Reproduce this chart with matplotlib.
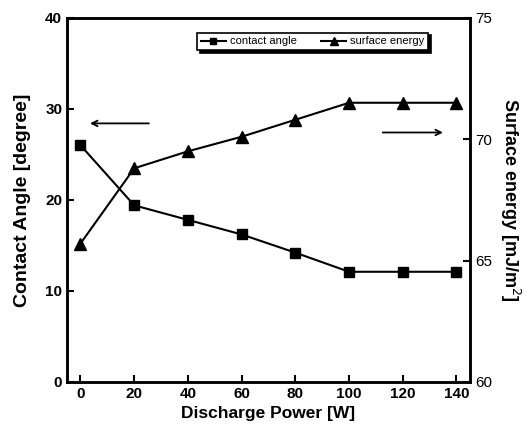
import matplotlib
matplotlib.use('Agg')
import matplotlib.pyplot as plt

plt.rcParams['font.family'] = ['Liberation Sans', 'DejaVu Sans']

power = [0, 20, 40, 60, 80, 100, 120, 140]
contact_angle = [26.0, 19.4, 17.8, 16.2, 14.2, 12.1, 12.1, 12.1]
surface_energy = [65.7, 68.8, 69.5, 70.1, 70.8, 71.5, 71.5, 71.5]
x_ticks = [0, 20, 40, 60, 80, 100, 120, 140]
left_ticks = [0, 10, 20, 30, 40]
right_ticks = [60, 65, 70, 75]

fig = plt.figure(figsize=(5.28, 4.34), dpi=100)
ax = fig.add_axes([0.127, 0.12, 0.763, 0.839])
ax2 = ax.twinx()

l1, = ax.plot(power, contact_angle, color='black', lw=1.5, marker='s', ms=7.5,
              label='contact angle')
l2, = ax2.plot(power, surface_energy, color='black', lw=1.5, marker='^', ms=9,
               label='surface energy')

ax.set_xlim(-5, 145)
ax.set_ylim(0, 40)
ax2.set_ylim(60, 75)
ax.set_xticks(x_ticks)
ax.set_yticks(left_ticks)
ax2.set_yticks(right_ticks)

# arrows showing which axis each curve belongs to
ax.annotate('', xy=(2.5, 28.4), xytext=(26.5, 28.4),
            arrowprops=dict(arrowstyle='->', color='black', lw=1.3))
ax.annotate('', xy=(136, 27.4), xytext=(111.5, 27.4),
            arrowprops=dict(arrowstyle='->', color='black', lw=1.3))

for a in (ax, ax2):
	for s in a.spines.values(): s.set_linewidth(1.8)
ax.tick_params(direction='in', length=5, width=1.5, labelsize=11)
ax2.tick_params(direction='in', length=5, width=1.5, labelsize=11)
for lab in ax.get_xticklabels() + ax.get_yticklabels(): lab.set_fontweight('bold')

ax.set_xlabel('Discharge Power [W]', fontsize=12.5, fontweight='bold', labelpad=4)
ax.set_ylabel('Contact Angle [degree]', fontsize=14, fontweight='bold', labelpad=10)
ax2.set_ylabel('Surface energy [mJ/m$^2$]', fontsize=13, fontweight='bold',
               rotation=270, labelpad=22)

leg = ax.legend([l1, l2], ['contact angle', 'surface energy'], loc='center',
                bbox_to_anchor=(0.61, 0.935), ncol=2, fontsize=8,
                handlelength=2.2, markerscale=0.6, frameon=True, fancybox=False,
                shadow={'color': 'black', 'alpha': 1}, borderpad=0.35,
                columnspacing=2.2, handletextpad=0.4)
leg.get_frame().set_edgecolor('black')
leg.get_frame().set_linewidth(1.2)

fig.savefig('out.png', dpi=100)
